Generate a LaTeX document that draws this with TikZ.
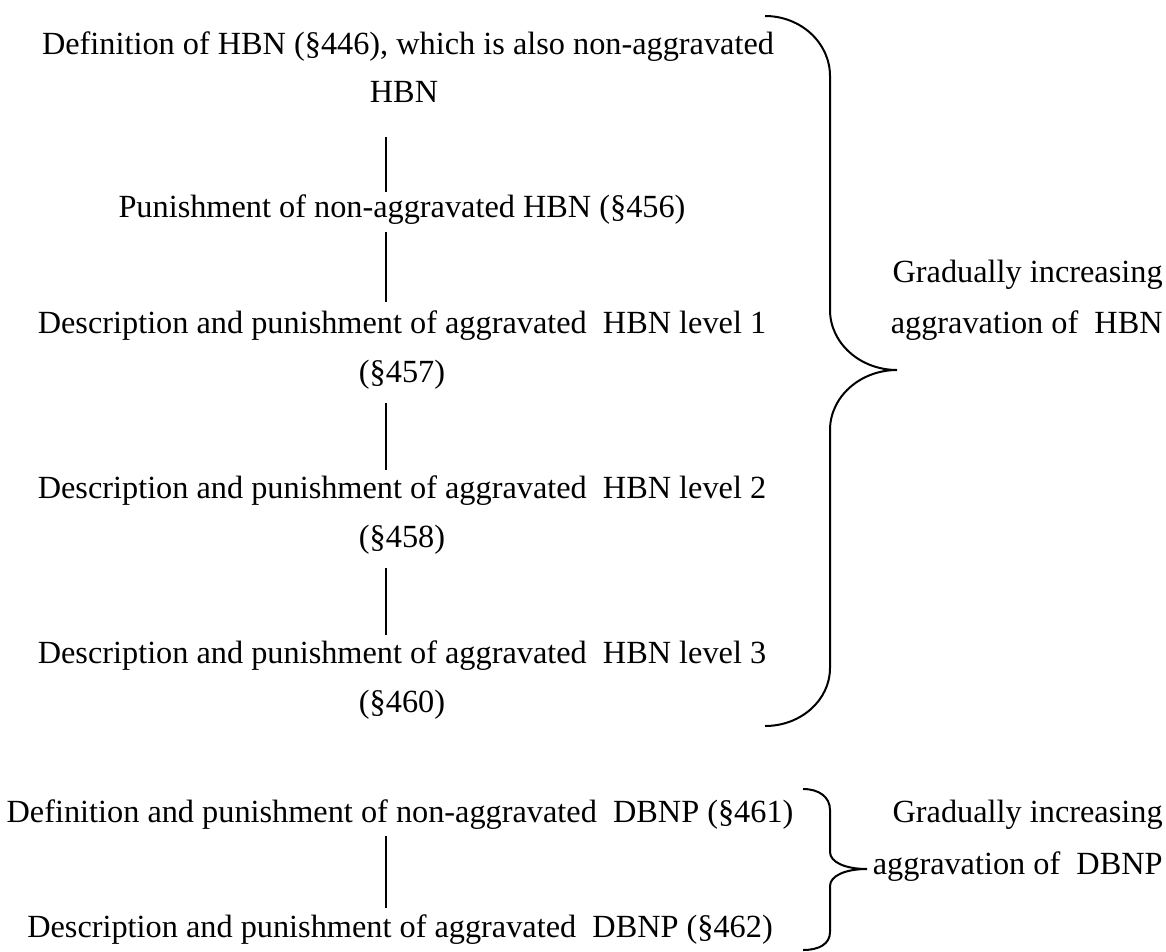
\documentclass[tikz,border=0pt]{standalone}
\usepackage{fontspec}
\setmainfont{Liberation Serif}
\usetikzlibrary{calc}
\begin{document}
\begin{tikzpicture}[x=0.5pt,y=-0.5pt,
  txt/.style={inner sep=0pt, anchor=base, font=\fontsize{16.15}{24.5}\selectfont},
  side/.style={inner sep=0pt, anchor=base east, font=\fontsize{16.15}{27}\selectfont},
  link/.style={line width=1pt},
  brace/.style={line width=1pt}]
\useasboundingbox (0,0) rectangle (1166,952);
\coordinate (axis) at (386,0);

% chain of HBN provisions (each wrapped line set on its own baseline)
\node[txt] (n1)  at (408,55)  {Definition of HBN (§446), which is also non-aggravated};
\node[txt] (n1x) at (404,103) {HBN};
\node[txt] (n2)  at (402,218) {Punishment of non-aggravated HBN (§456)};
\node[txt] (n3)  at (402,333) {Description and punishment of aggravated~ HBN level 1};
\node[txt] (n3x) at (402,382) {(§457)};
\node[txt] (n4)  at (402,498) {Description and punishment of aggravated~ HBN level 2};
\node[txt] (n4x) at (402,547) {(§458)};
\node[txt] (n5)  at (402,663) {Description and punishment of aggravated~ HBN level 3};
\node[txt] (n5x) at (402,712) {(§460)};

% chain of DBNP provisions
\node[txt] (n6) at (400,822) {Definition and punishment of non-aggravated~ DBNP (§461)};
\node[txt] (n7) at (400,937) {Description and punishment of aggravated~ DBNP (§462)};

% labels beside the braces
\node[side] (r1a) at (1163,282) {Gradually increasing};
\node[side] (r1b) at (1163,333) {aggravation of~ HBN};
\node[side] (r2a) at (1163,822) {Gradually increasing};
\node[side] (r2b) at (1163,874) {aggravation of~ DBNP};

% connectors, measured from the text baselines
\draw[link] ($(n1x.base -| axis)+(0,34)$) -- ($(n2.base -| axis)+(0,-26)$);
\draw[link] ($(n2.base -| axis)+(0,14)$)  -- ($(n3.base -| axis)+(0,-31)$);
\draw[link] ($(n3x.base -| axis)+(0,21)$) -- ($(n4.base -| axis)+(0,-28)$);
\draw[link] ($(n4x.base -| axis)+(0,21)$) -- ($(n5.base -| axis)+(0,-28)$);
\draw[link] ($(n6.base -| axis)+(0,14)$)  -- ($(n7.base -| axis)+(0,-29)$);

% large brace
\draw[brace] (765,16) .. controls (801,16) and (830,43) .. (830,76)
  -- (830,310) .. controls (830,343) and (860,370) .. (897,370)
  .. controls (860,370) and (830,397) .. (830,430)
  -- (830,668) .. controls (830,700) and (801,726) .. (765,726);

% small brace
\draw[brace] (803,789) .. controls (819,789) and (830,797) .. (830,810)
  -- (830,852) .. controls (830,862) and (845,869) .. (867,869)
  .. controls (845,869) and (830,876) .. (830,886)
  -- (830,932) .. controls (830,944) and (819,950) .. (803,950);
\end{tikzpicture}
\end{document}
